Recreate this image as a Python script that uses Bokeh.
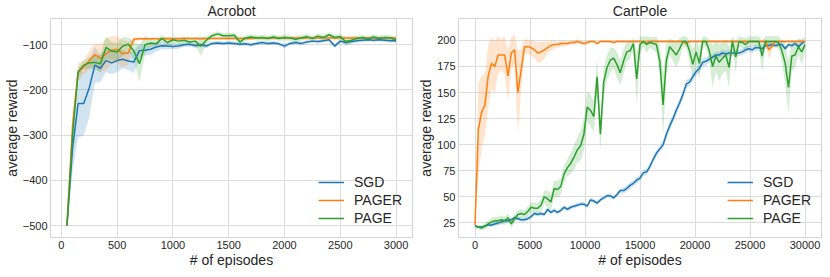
import numpy as np
from bokeh.plotting import figure
from bokeh.models import Range1d, FixedTicker, Legend, LegendItem
from bokeh.layouts import row
from bokeh.embed import file_html
from bokeh.resources import INLINE

FONT = "Liberation Sans"
C_SGD = "#1f77b4"
C_PAGER = "#ff7f0e"
C_PAGE = "#2ca02c"

# ---------------- Acrobot data ----------------
acro_x = list(range(50, 3001, 50))
acro_sgd = [-500, -330, -230, -230, -195, -145, -152, -135, -140, -135,
            -132, -136, -138, -113, -112, -110, -105, -102, -103, -104,
            -103, -100, -99, -102, -100, -103, -97, -96, -97, -96,
            -97, -99, -98, -100, -97, -95, -97, -96, -98, -103,
            -97, -95, -97, -94, -92, -93, -91, -89, -103, -92,
            -95, -93, -91, -90, -89, -90, -89, -90, -91, -91]
acro_sgd_sd = [0, 50, 75, 70, 65, 40, 30, 25, 25, 25,
               20, 20, 25, 15, 12, 12, 10, 8, 7, 6,
               6, 5, 5, 5, 5, 5, 4, 4, 4, 4,
               4, 4, 4, 5, 4, 4, 4, 4, 4, 5,
               4, 4, 4, 4, 4, 4, 4, 4, 5, 4,
               5, 4, 4, 4, 4, 4, 4, 4, 4, 4]
acro_pager = [-500, -280, -160, -150, -135, -122, -130, -120, -112, -110,
              -120, -118, -88, -87, -87, -87, -87, -87, -86, -87,
              -87, -86, -86, -86, -87, -86, -86, -86, -86, -86,
              -86, -86, -86, -86, -85, -85, -85, -85, -85, -85,
              -85, -85, -85, -85, -85, -85, -85, -85, -85, -85,
              -85, -85, -85, -85, -85, -85, -85, -85, -85, -85]
acro_pager_sd = [0, 30, 20, 15, 20, 25, 30, 35, 30, 30,
                 30, 25, 5, 3, 3, 3, 3, 3, 3, 3,
                 3, 3, 3, 3, 3, 3, 3, 3, 3, 3,
                 3, 3, 3, 3, 3, 3, 3, 3, 3, 3,
                 3, 3, 3, 3, 3, 3, 3, 3, 3, 3,
                 3, 3, 3, 3, 3, 3, 3, 3, 3, 3]
acro_page = [-500, -300, -160, -145, -140, -139, -142, -106, -114, -116,
             -103, -99, -114, -142, -100, -96, -98, -86, -95, -89,
             -92, -90, -94, -92, -103, -90, -80, -76, -80, -80,
             -79, -94, -85, -83, -85, -84, -86, -83, -86, -84,
             -85, -88, -85, -82, -86, -81, -84, -78, -84, -82,
             -93, -90, -86, -84, -87, -83, -86, -84, -85, -89]
acro_page_sd = [0, 20, 10, 10, 12, 15, 20, 25, 20, 20,
                20, 15, 20, 40, 20, 10, 8, 8, 8, 8,
                8, 8, 8, 8, 22, 8, 6, 6, 6, 6,
                6, 10, 6, 6, 6, 6, 6, 6, 6, 6,
                6, 6, 6, 6, 6, 6, 6, 6, 6, 6,
                10, 8, 6, 6, 6, 6, 6, 6, 6, 6]
acro_xticks = [0, 500, 1000, 1500, 2000, 2500, 3000]
acro_yticks = [-500, -400, -300, -200, -100]
acro_ylabels = ["\u2212500", "\u2212400", "\u2212300", "\u2212200", "\u2212100"]

# ---------------- CartPole data ----------------
cart_x = list(range(0, 30001, 300))
cart_sgd = [22, 21, 21, 22, 23, 23, 24, 25, 26, 27,
            27, 28, 30, 29, 28, 28, 29, 31, 34, 33,
            34, 33, 38, 35, 37, 35, 37, 40, 38, 40,
            41, 42, 43, 43, 41, 47, 46, 44, 47, 49,
            51, 51, 49, 52, 56, 56, 58, 61, 63, 66,
            68, 73, 74, 79, 86, 92, 96, 100, 110, 118,
            125, 133, 140, 148, 158, 160, 165, 170, 173, 179,
            180, 182, 184, 186, 186, 188, 187, 188, 188, 188,
            188, 189, 191, 192, 191, 193, 193, 192, 195, 195,
            196, 195, 196, 196, 192, 196, 195, 197, 194, 197,
            199]
cart_sgd_sd = [1, 1, 1, 1, 1, 2, 2, 2, 2, 2,
               2, 2, 2, 2, 2, 2, 2, 2, 2, 2,
               2, 2, 2, 2, 2, 2, 2, 2, 2, 2,
               2, 2, 2, 2, 2, 2, 2, 2, 2, 2,
               2, 2, 2, 2, 2, 3, 3, 3, 3, 3,
               3, 3, 3, 3, 3, 3, 3, 4, 4, 4,
               4, 4, 4, 4, 4, 4, 4, 4, 4, 4,
               4, 3, 3, 3, 3, 3, 3, 3, 3, 3,
               3, 3, 3, 3, 3, 3, 3, 3, 3, 3,
               2, 2, 2, 2, 2, 2, 2, 2, 2, 2,
               1]
cart_pager = [23, 114, 131, 138, 166, 178, 175, 186, 186, 186,
              166, 188, 191, 150, 172, 194, 194, 193, 191, 188,
              189, 191, 193, 195, 196, 196, 197, 197, 197, 198,
              198, 199, 198, 197, 198, 199, 199, 197, 199, 199,
              199, 199, 198, 199, 199, 199, 199, 199, 199, 199,
              199, 199, 198, 199, 199, 199, 199, 199, 199, 199,
              199, 199, 199, 199, 197, 199, 199, 199, 199, 199,
              199, 199, 199, 199, 199, 199, 199, 199, 199, 199,
              199, 199, 199, 199, 199, 199, 199, 199, 199, 191,
              194, 199, 199, 199, 199, 199, 199, 199, 199, 199,
              199]
cart_pager_sd = [1, 45, 35, 30, 30, 25, 25, 18, 15, 18,
                 25, 15, 15, 40, 20, 8, 6, 8, 8, 10,
                 10, 8, 6, 5, 4, 3, 3, 3, 2, 2,
                 2, 2, 2, 2, 2, 1, 1, 2, 1, 1,
                 1, 1, 2, 1, 1, 1, 1, 1, 1, 1,
                 1, 1, 2, 1, 1, 1, 1, 1, 1, 1,
                 1, 1, 1, 1, 3, 1, 1, 1, 1, 1,
                 1, 1, 1, 1, 1, 1, 1, 1, 1, 1,
                 1, 1, 1, 1, 1, 1, 1, 1, 2, 8,
                 5, 1, 1, 1, 1, 1, 1, 1, 1, 1,
                 1]
cart_page = [22, 21, 20, 22, 24, 26, 27, 27, 28, 27,
             30, 24, 29, 33, 34, 33, 36, 40, 39, 39,
             42, 50, 48, 45, 58, 57, 60, 72, 78, 82,
             88, 95, 99, 110, 136, 133, 127, 165, 110, 160,
             174, 181, 183, 177, 169, 180, 189, 190, 197, 163,
             196, 199, 196, 198, 197, 196, 180, 138, 181, 194,
             190, 186, 192, 199, 199, 190, 177, 189, 178, 199,
             199, 190, 175, 185, 179, 183, 186, 174, 199, 184,
             199, 198, 196, 199, 199, 199, 199, 185, 199, 199,
             199, 199, 198, 190, 178, 155, 185, 186, 194, 189,
             196]
cart_page_sd = [1, 2, 2, 3, 3, 4, 4, 4, 4, 4,
                4, 4, 4, 4, 4, 4, 5, 5, 5, 5,
                6, 6, 8, 8, 8, 8, 8, 8, 8, 10,
                12, 12, 14, 15, 15, 15, 15, 18, 15, 15,
                12, 12, 10, 12, 12, 12, 10, 8, 5, 25,
                8, 5, 8, 5, 6, 8, 15, 30, 15, 8,
                10, 12, 10, 5, 5, 10, 15, 12, 15, 5,
                5, 10, 20, 15, 18, 15, 15, 20, 5, 15,
                5, 5, 6, 5, 5, 5, 5, 15, 5, 5,
                5, 5, 6, 10, 20, 25, 15, 12, 8, 12,
                8]
cart_xticks = [0, 5000, 10000, 15000, 20000, 25000, 30000]
cart_yticks = [25, 50, 75, 100, 125, 150, 175, 200]

labels = ["SGD", "PAGER", "PAGE"]
colors = [C_SGD, C_PAGER, C_PAGE]


def make_panel(title, xs, series, sds, xr, yr, xticks, yticks, ylabels,
               frame_w, mbl, mbr):
    p = figure(frame_width=frame_w, frame_height=219, output_backend="svg",
               toolbar_location=None, x_range=Range1d(*xr), y_range=Range1d(*yr),
               min_border_left=mbl, min_border_right=mbr,
               min_border_top=15, min_border_bottom=27)
    p.background_fill_color = "white"
    p.border_fill_color = "white"
    p.outline_line_color = "#d5d5d5"
    p.outline_line_width = 1.2
    x = np.array(xs, dtype=float)
    renderers = []
    for ser, sd, col in zip(series, sds, colors):
        m = np.array(ser, dtype=float)
        s = np.array(sd, dtype=float)
        p.varea(x=x, y1=m - s, y2=m + s, fill_color=col, fill_alpha=0.2)
    for ser, col in zip(series, colors):
        r = p.line(x, np.array(ser, dtype=float), line_color=col, line_width=1.5)
        renderers.append(r)

    p.title.text = title
    p.title.align = "center"
    p.title.text_font = FONT
    p.title.text_font_size = "14px"
    p.title.text_font_style = "normal"
    p.title.text_color = "#262626"
    p.title.offset = 0
    p.title.standoff = 0

    for ax in (p.xaxis[0], p.yaxis[0]):
        ax.axis_line_color = None
        ax.major_tick_line_color = None
        ax.minor_tick_line_color = None
        ax.major_tick_out = 0
        ax.major_tick_in = 0
        ax.major_label_text_font = FONT
        ax.major_label_text_font_size = "11px"
        ax.major_label_text_color = "#262626"
        ax.axis_label_text_font = FONT
        ax.axis_label_text_font_size = "14px"
        ax.axis_label_text_font_style = "normal"
        ax.axis_label_text_color = "#262626"
        ax.major_label_standoff = 3
        ax.axis_label_standoff = 0
    p.xaxis.ticker = FixedTicker(ticks=xticks)
    p.yaxis.ticker = FixedTicker(ticks=yticks)
    if ylabels is not None:
        p.yaxis.major_label_overrides = {t: l for t, l in zip(yticks, ylabels)}
    p.xaxis.axis_label = "# of episodes"
    p.yaxis.axis_label = "average reward"
    p.grid.grid_line_color = "#dcdcdc"
    p.grid.grid_line_width = 1

    legend = Legend(items=[LegendItem(label=l, renderers=[r]) for l, r in zip(labels, renderers)],
                    location="bottom_right")
    legend.background_fill_alpha = 0
    legend.border_line_alpha = 0
    legend.label_text_font = FONT
    legend.label_text_font_size = "14px"
    legend.label_text_color = "#262626"
    legend.glyph_width = 26
    legend.glyph_height = 18
    legend.label_height = 18
    legend.spacing = 0
    legend.label_standoff = 10
    legend.padding = 6
    legend.margin = 4
    p.add_layout(legend)
    return p


p1 = make_panel("Acrobot", acro_x, [acro_sgd, acro_pager, acro_page],
                [acro_sgd_sd, acro_pager_sd, acro_page_sd],
                (-97.5, 3147.5), (-526, -42), acro_xticks, acro_yticks, acro_ylabels,
                frame_w=362, mbl=37, mbr=3)
p2 = make_panel("CartPole", cart_x, [cart_sgd, cart_pager, cart_page],
                [cart_sgd_sd, cart_pager_sd, cart_page_sd],
                (-1500, 31500), (11, 221), cart_xticks, cart_yticks, None,
                frame_w=363, mbl=39, mbr=1)

layout = row(p1, p2)
open("out.html", "w").write(file_html(layout, INLINE))
